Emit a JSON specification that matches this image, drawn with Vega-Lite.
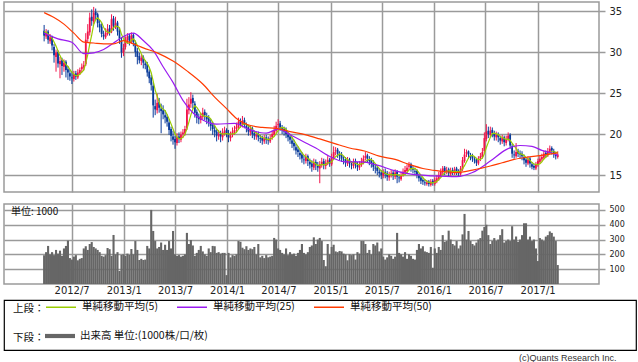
{
"$schema": "https://vega.github.io/schema/vega-lite/v6.json",
"padding": {"left": 3, "top": 1, "right": 0, "bottom": 1},
"background": "white",
"config": {
  "font": "DejaVu Sans",
  "view": {"stroke": "#9a9a9a", "strokeWidth": 1.5},
  "axis": {"gridColor": "#9a9a9a", "gridWidth": 1.5, "gridOpacity": 1, "domain": false, "labelFont": "DejaVu Sans", "labelColor": "#222222", "tickColor": "#9a9a9a", "tickWidth": 1.5, "labelOverlap": false},
  "legend": {"orient": "none", "padding": 0, "labelFont": "Noto Sans CJK JP", "titleFont": "Noto Sans CJK JP", "labelFontSize": 10.5, "titleFontSize": 10.5, "titleFontWeight": "normal", "labelColor": "#111111", "titleColor": "#111111", "direction": "horizontal", "titleOrient": "left", "titleBaseline": "line-top", "titleLineHeight": 14}
},
"title": {"text": "(c)Quants Research Inc.", "orient": "bottom", "anchor": "end", "fontSize": 9, "font": "Liberation Sans", "fontWeight": "normal", "color": "#333333", "offset": 3, "dx": -20},
"datasets": {
"px": [
{"d":"2012-03-26","o":32.6,"h":33.3,"l":31.3,"c":32.0,"v":194,"m":32.5},
{"d":"2012-04-02","o":31.9,"h":32.8,"l":31.6,"c":32.4,"v":215,"m":32.4},
{"d":"2012-04-09","o":32.5,"h":32.7,"l":31.0,"c":31.5,"v":257,"m":32.2},
{"d":"2012-04-16","o":31.3,"h":32.2,"l":31.0,"c":31.8,"v":200,"m":32.0},
{"d":"2012-04-23","o":31.9,"h":32.0,"l":30.2,"c":30.8,"v":215,"m":31.7},
{"d":"2012-04-30","o":30.6,"h":31.0,"l":28.7,"c":29.6,"v":195,"m":31.22},
{"d":"2012-05-07","o":29.4,"h":30.3,"l":27.6,"c":29.9,"v":230,"m":30.72},
{"d":"2012-05-14","o":30.0,"h":30.2,"l":28.1,"c":28.6,"v":205,"m":30.14},
{"d":"2012-05-21","o":28.5,"h":29.4,"l":26.8,"c":28.9,"v":225,"m":29.56},
{"d":"2012-05-28","o":29.0,"h":29.3,"l":27.2,"c":28.3,"v":190,"m":29.06},
{"d":"2012-06-04","o":28.2,"h":29.1,"l":27.6,"c":28.7,"v":240,"m":28.88},
{"d":"2012-06-11","o":28.8,"h":29.0,"l":26.9,"c":27.8,"v":257,"m":28.46},
{"d":"2012-06-18","o":27.9,"h":28.3,"l":26.6,"c":27.5,"v":293,"m":28.24},
{"d":"2012-06-25","o":27.4,"h":27.9,"l":26.5,"c":27.0,"v":175,"m":27.86},
{"d":"2012-07-02","o":26.9,"h":27.6,"l":26.1,"c":26.8,"v":165,"m":27.56},
{"d":"2012-07-09","o":26.7,"h":27.7,"l":26.4,"c":27.3,"v":185,"m":27.28},
{"d":"2012-07-16","o":27.4,"h":27.7,"l":26.6,"c":27.0,"v":195,"m":27.12},
{"d":"2012-07-23","o":26.9,"h":27.9,"l":26.7,"c":27.5,"v":160,"m":27.12},
{"d":"2012-07-30","o":27.4,"h":28.1,"l":27.2,"c":27.8,"v":170,"m":27.28},
{"d":"2012-08-06","o":27.9,"h":28.6,"l":27.5,"c":28.2,"v":175,"m":27.56},
{"d":"2012-08-13","o":28.1,"h":28.9,"l":27.8,"c":28.4,"v":240,"m":27.78},
{"d":"2012-08-20","o":28.5,"h":32.3,"l":28.3,"c":31.5,"v":255,"m":28.68},
{"d":"2012-08-27","o":31.6,"h":33.4,"l":31.2,"c":32.5,"v":230,"m":29.68},
{"d":"2012-09-03","o":32.4,"h":34.8,"l":32.0,"c":34.2,"v":270,"m":30.96},
{"d":"2012-09-10","o":34.3,"h":35.2,"l":33.2,"c":33.8,"v":283,"m":32.08},
{"d":"2012-09-17","o":33.7,"h":35.5,"l":33.4,"c":34.8,"v":250,"m":33.36},
{"d":"2012-09-24","o":34.9,"h":35.3,"l":33.9,"c":34.5,"v":240,"m":33.96},
{"d":"2012-10-01","o":34.6,"h":34.8,"l":33.0,"c":33.5,"v":230,"m":34.16},
{"d":"2012-10-08","o":33.4,"h":33.9,"l":32.4,"c":33.0,"v":215,"m":33.92},
{"d":"2012-10-15","o":33.1,"h":33.5,"l":31.8,"c":32.2,"v":190,"m":33.6},
{"d":"2012-10-22","o":32.1,"h":32.6,"l":31.5,"c":31.9,"v":185,"m":33.02},
{"d":"2012-10-29","o":31.8,"h":32.9,"l":31.6,"c":32.3,"v":195,"m":32.58},
{"d":"2012-11-05","o":32.2,"h":33.4,"l":32.0,"c":32.8,"v":243,"m":32.44},
{"d":"2012-11-12","o":32.9,"h":33.3,"l":32.0,"c":32.4,"v":235,"m":32.32},
{"d":"2012-11-19","o":32.5,"h":34.6,"l":32.3,"c":34.0,"v":190,"m":32.68},
{"d":"2012-11-26","o":34.1,"h":34.4,"l":32.6,"c":33.2,"v":331,"m":32.94},
{"d":"2012-12-03","o":33.1,"h":34.3,"l":32.8,"c":33.5,"v":200,"m":33.18},
{"d":"2012-12-10","o":33.6,"h":33.8,"l":32.0,"c":32.5,"v":215,"m":33.12},
{"d":"2012-12-17","o":32.6,"h":32.9,"l":31.0,"c":31.6,"v":88,"m":32.96},
{"d":"2012-12-24","o":31.5,"h":31.8,"l":29.3,"c":30.0,"v":196,"m":32.16},
{"d":"2012-12-31","o":29.9,"h":31.0,"l":29.5,"c":30.5,"v":200,"m":31.62},
{"d":"2013-01-07","o":30.6,"h":31.9,"l":30.3,"c":31.5,"v":190,"m":31.22},
{"d":"2013-01-14","o":31.4,"h":32.3,"l":31.0,"c":31.9,"v":205,"m":31.1},
{"d":"2013-01-21","o":32.0,"h":32.2,"l":30.8,"c":31.4,"v":196,"m":31.06},
{"d":"2013-01-28","o":31.3,"h":32.4,"l":31.0,"c":32.0,"v":236,"m":31.46},
{"d":"2013-02-04","o":32.1,"h":32.3,"l":30.7,"c":31.2,"v":200,"m":31.6},
{"d":"2013-02-11","o":31.1,"h":31.4,"l":29.4,"c":30.0,"v":290,"m":31.3},
{"d":"2013-02-18","o":30.1,"h":30.5,"l":28.5,"c":29.4,"v":230,"m":30.8},
{"d":"2013-02-25","o":29.5,"h":29.9,"l":28.6,"c":29.0,"v":162,"m":30.32},
{"d":"2013-03-04","o":28.9,"h":29.7,"l":28.4,"c":29.3,"v":170,"m":29.78},
{"d":"2013-03-11","o":29.4,"h":29.6,"l":28.0,"c":28.7,"v":162,"m":29.28},
{"d":"2013-03-18","o":28.6,"h":29.0,"l":27.9,"c":28.4,"v":165,"m":28.96},
{"d":"2013-03-25","o":28.5,"h":28.8,"l":27.0,"c":27.5,"v":257,"m":28.58},
{"d":"2013-04-01","o":27.6,"h":27.9,"l":26.2,"c":26.8,"v":240,"m":28.14},
{"d":"2013-04-08","o":26.9,"h":27.2,"l":25.3,"c":26.0,"v":500,"m":27.48},
{"d":"2013-04-15","o":25.9,"h":26.3,"l":22.0,"c":23.5,"v":358,"m":26.44},
{"d":"2013-04-22","o":23.4,"h":24.2,"l":22.3,"c":23.0,"v":290,"m":25.36},
{"d":"2013-04-29","o":22.9,"h":24.9,"l":22.5,"c":23.8,"v":240,"m":24.62},
{"d":"2013-05-06","o":23.9,"h":24.4,"l":22.6,"c":23.2,"v":250,"m":23.9},
{"d":"2013-05-13","o":23.1,"h":23.7,"l":20.1,"c":22.8,"v":280,"m":23.26},
{"d":"2013-05-20","o":22.9,"h":23.5,"l":21.8,"c":22.4,"v":230,"m":23.04},
{"d":"2013-05-27","o":22.3,"h":22.9,"l":21.3,"c":22.0,"v":265,"m":22.84},
{"d":"2013-06-03","o":22.1,"h":22.4,"l":20.9,"c":21.5,"v":230,"m":22.38},
{"d":"2013-06-10","o":21.4,"h":21.8,"l":19.9,"c":20.5,"v":290,"m":21.84},
{"d":"2013-06-17","o":20.6,"h":20.9,"l":19.1,"c":19.8,"v":240,"m":21.24},
{"d":"2013-06-24","o":19.7,"h":20.4,"l":18.7,"c":19.3,"v":358,"m":20.62},
{"d":"2013-07-01","o":19.4,"h":19.8,"l":18.2,"c":19.0,"v":200,"m":20.02},
{"d":"2013-07-08","o":18.9,"h":20.1,"l":18.6,"c":19.6,"v":190,"m":19.64},
{"d":"2013-07-15","o":19.7,"h":20.2,"l":18.9,"c":19.4,"v":195,"m":19.42},
{"d":"2013-07-22","o":19.3,"h":20.3,"l":19.0,"c":19.9,"v":185,"m":19.44},
{"d":"2013-07-29","o":20.0,"h":20.6,"l":19.5,"c":20.2,"v":190,"m":19.62},
{"d":"2013-08-05","o":20.1,"h":21.0,"l":19.8,"c":20.6,"v":200,"m":19.94},
{"d":"2013-08-12","o":20.7,"h":24.3,"l":20.5,"c":23.0,"v":345,"m":20.62},
{"d":"2013-08-19","o":22.9,"h":24.5,"l":22.4,"c":23.6,"v":270,"m":21.46},
{"d":"2013-08-26","o":23.7,"h":25.1,"l":23.2,"c":24.3,"v":297,"m":22.34},
{"d":"2013-09-02","o":24.4,"h":24.8,"l":23.1,"c":23.8,"v":260,"m":23.06},
{"d":"2013-09-09","o":23.7,"h":24.0,"l":22.0,"c":22.6,"v":190,"m":23.46},
{"d":"2013-09-16","o":22.7,"h":23.0,"l":21.3,"c":22.0,"v":210,"m":23.26},
{"d":"2013-09-23","o":22.1,"h":22.5,"l":21.2,"c":21.8,"v":230,"m":22.9},
{"d":"2013-09-30","o":21.7,"h":22.6,"l":21.3,"c":22.2,"v":257,"m":22.48},
{"d":"2013-10-07","o":22.1,"h":23.2,"l":21.8,"c":22.6,"v":220,"m":22.24},
{"d":"2013-10-14","o":22.7,"h":23.0,"l":21.7,"c":22.3,"v":200,"m":22.18},
{"d":"2013-10-21","o":22.2,"h":22.6,"l":21.2,"c":21.8,"v":190,"m":22.14},
{"d":"2013-10-28","o":21.9,"h":22.3,"l":20.9,"c":21.5,"v":240,"m":22.08},
{"d":"2013-11-04","o":21.4,"h":21.8,"l":20.4,"c":21.0,"v":215,"m":21.84},
{"d":"2013-11-11","o":21.1,"h":21.5,"l":19.9,"c":20.6,"v":257,"m":21.44},
{"d":"2013-11-18","o":20.5,"h":21.0,"l":19.6,"c":20.2,"v":255,"m":21.02},
{"d":"2013-11-25","o":20.3,"h":20.6,"l":19.1,"c":19.8,"v":210,"m":20.62},
{"d":"2013-12-02","o":19.7,"h":20.5,"l":19.3,"c":20.0,"v":215,"m":20.32},
{"d":"2013-12-09","o":20.1,"h":20.4,"l":19.0,"c":19.7,"v":205,"m":20.06},
{"d":"2013-12-16","o":19.6,"h":20.7,"l":19.2,"c":20.2,"v":210,"m":19.98},
{"d":"2013-12-23","o":20.1,"h":20.9,"l":19.8,"c":20.4,"v":210,"m":20.02},
{"d":"2013-12-30","o":20.5,"h":20.7,"l":19.6,"c":20.0,"v":60,"m":20.06},
{"d":"2014-01-06","o":20.1,"h":20.5,"l":19.0,"c":19.6,"v":210,"m":19.98},
{"d":"2014-01-13","o":19.5,"h":20.3,"l":19.1,"c":19.8,"v":180,"m":20.0},
{"d":"2014-01-20","o":19.9,"h":20.8,"l":19.6,"c":20.3,"v":195,"m":20.02},
{"d":"2014-01-27","o":20.2,"h":21.0,"l":19.9,"c":20.5,"v":190,"m":20.04},
{"d":"2014-02-03","o":20.6,"h":21.4,"l":20.2,"c":20.9,"v":200,"m":20.22},
{"d":"2014-02-10","o":20.8,"h":22.0,"l":20.5,"c":21.5,"v":290,"m":20.6},
{"d":"2014-02-17","o":21.6,"h":21.9,"l":20.8,"c":21.2,"v":285,"m":20.88},
{"d":"2014-02-24","o":21.1,"h":22.2,"l":20.8,"c":21.6,"v":245,"m":21.14},
{"d":"2014-03-03","o":21.7,"h":22.0,"l":20.7,"c":21.1,"v":235,"m":21.26},
{"d":"2014-03-10","o":21.0,"h":21.4,"l":20.2,"c":20.7,"v":255,"m":21.22},
{"d":"2014-03-17","o":20.8,"h":21.1,"l":19.8,"c":20.3,"v":230,"m":20.98},
{"d":"2014-03-24","o":20.2,"h":21.0,"l":19.8,"c":20.6,"v":240,"m":20.86},
{"d":"2014-03-31","o":20.7,"h":20.9,"l":19.5,"c":20.0,"v":235,"m":20.54},
{"d":"2014-04-07","o":20.1,"h":20.4,"l":19.3,"c":19.8,"v":250,"m":20.28},
{"d":"2014-04-14","o":19.7,"h":20.3,"l":19.3,"c":19.9,"v":200,"m":20.12},
{"d":"2014-04-21","o":20.0,"h":20.3,"l":19.1,"c":19.6,"v":270,"m":19.98},
{"d":"2014-04-28","o":19.5,"h":19.9,"l":18.9,"c":19.4,"v":180,"m":19.74},
{"d":"2014-05-05","o":19.5,"h":19.8,"l":18.7,"c":19.2,"v":190,"m":19.58},
{"d":"2014-05-12","o":19.1,"h":19.9,"l":18.8,"c":19.5,"v":175,"m":19.52},
{"d":"2014-05-19","o":19.6,"h":19.9,"l":18.8,"c":19.3,"v":195,"m":19.4},
{"d":"2014-05-26","o":19.3,"h":19.7,"l":18.7,"c":19.2,"v":180,"m":19.32},
{"d":"2014-06-02","o":19.1,"h":19.9,"l":18.9,"c":19.5,"v":185,"m":19.34},
{"d":"2014-06-09","o":19.6,"h":20.4,"l":19.3,"c":20.0,"v":190,"m":19.5},
{"d":"2014-06-16","o":19.9,"h":21.0,"l":19.7,"c":20.5,"v":311,"m":19.7},
{"d":"2014-06-23","o":20.4,"h":21.5,"l":20.1,"c":21.0,"v":300,"m":20.04},
{"d":"2014-06-30","o":21.1,"h":21.8,"l":20.7,"c":21.2,"v":240,"m":20.44},
{"d":"2014-07-07","o":21.3,"h":21.6,"l":20.4,"c":20.8,"v":230,"m":20.7},
{"d":"2014-07-14","o":20.7,"h":21.1,"l":20.0,"c":20.5,"v":210,"m":20.8},
{"d":"2014-07-21","o":20.6,"h":20.9,"l":19.8,"c":20.3,"v":200,"m":20.76},
{"d":"2014-07-28","o":20.4,"h":20.8,"l":19.5,"c":20.0,"v":240,"m":20.56},
{"d":"2014-08-04","o":19.9,"h":20.3,"l":19.1,"c":19.6,"v":195,"m":20.24},
{"d":"2014-08-11","o":19.7,"h":20.0,"l":18.8,"c":19.3,"v":215,"m":19.94},
{"d":"2014-08-18","o":19.2,"h":19.6,"l":18.3,"c":18.8,"v":200,"m":19.6},
{"d":"2014-08-25","o":18.9,"h":19.3,"l":18.0,"c":18.5,"v":205,"m":19.24},
{"d":"2014-09-01","o":18.4,"h":18.8,"l":17.5,"c":18.0,"v":190,"m":18.84},
{"d":"2014-09-08","o":18.1,"h":18.5,"l":17.2,"c":17.8,"v":210,"m":18.48},
{"d":"2014-09-15","o":17.7,"h":18.1,"l":16.9,"c":17.4,"v":230,"m":18.1},
{"d":"2014-09-22","o":17.5,"h":17.8,"l":16.5,"c":17.0,"v":270,"m":17.74},
{"d":"2014-09-29","o":16.9,"h":17.4,"l":16.3,"c":16.8,"v":210,"m":17.4},
{"d":"2014-10-06","o":16.7,"h":17.6,"l":16.4,"c":17.2,"v":200,"m":17.24},
{"d":"2014-10-13","o":17.3,"h":17.5,"l":16.1,"c":16.7,"v":215,"m":17.02},
{"d":"2014-10-20","o":16.6,"h":17.0,"l":15.8,"c":16.3,"v":250,"m":16.8},
{"d":"2014-10-27","o":16.4,"h":16.8,"l":15.4,"c":16.0,"v":260,"m":16.6},
{"d":"2014-11-03","o":15.9,"h":17.0,"l":15.6,"c":16.5,"v":315,"m":16.54},
{"d":"2014-11-10","o":16.6,"h":16.9,"l":15.6,"c":16.2,"v":270,"m":16.34},
{"d":"2014-11-17","o":16.1,"h":16.6,"l":15.4,"c":15.9,"v":300,"m":16.18},
{"d":"2014-11-24","o":15.8,"h":16.7,"l":14.0,"c":16.3,"v":311,"m":16.18},
{"d":"2014-12-01","o":16.2,"h":17.1,"l":15.9,"c":16.6,"v":290,"m":16.3},
{"d":"2014-12-08","o":16.7,"h":17.0,"l":15.7,"c":16.2,"v":162,"m":16.24},
{"d":"2014-12-15","o":16.1,"h":16.9,"l":15.7,"c":16.5,"v":120,"m":16.3},
{"d":"2014-12-22","o":16.4,"h":17.3,"l":16.2,"c":16.8,"v":270,"m":16.48},
{"d":"2014-12-29","o":16.9,"h":17.1,"l":16.0,"c":16.4,"v":200,"m":16.5},
{"d":"2015-01-05","o":16.3,"h":17.6,"l":16.1,"c":17.2,"v":250,"m":16.62},
{"d":"2015-01-12","o":17.1,"h":18.5,"l":16.9,"c":17.8,"v":265,"m":16.94},
{"d":"2015-01-19","o":17.9,"h":18.4,"l":17.4,"c":18.0,"v":220,"m":17.24},
{"d":"2015-01-26","o":18.1,"h":18.3,"l":17.1,"c":17.6,"v":215,"m":17.4},
{"d":"2015-02-02","o":17.5,"h":17.9,"l":16.8,"c":17.3,"v":223,"m":17.58},
{"d":"2015-02-09","o":17.4,"h":17.8,"l":16.6,"c":17.0,"v":220,"m":17.54},
{"d":"2015-02-16","o":16.9,"h":17.3,"l":16.3,"c":16.8,"v":205,"m":17.34},
{"d":"2015-02-23","o":16.9,"h":17.2,"l":16.0,"c":16.5,"v":200,"m":17.04},
{"d":"2015-03-02","o":16.4,"h":17.2,"l":16.1,"c":16.8,"v":160,"m":16.88},
{"d":"2015-03-09","o":16.9,"h":17.1,"l":15.9,"c":16.4,"v":200,"m":16.7},
{"d":"2015-03-16","o":16.3,"h":16.7,"l":15.7,"c":16.2,"v":195,"m":16.54},
{"d":"2015-03-23","o":16.1,"h":17.0,"l":15.8,"c":16.6,"v":200,"m":16.5},
{"d":"2015-03-30","o":16.7,"h":17.0,"l":15.8,"c":16.3,"v":165,"m":16.46},
{"d":"2015-04-06","o":16.2,"h":16.6,"l":15.5,"c":16.0,"v":215,"m":16.3},
{"d":"2015-04-13","o":15.9,"h":16.7,"l":15.6,"c":16.3,"v":205,"m":16.28},
{"d":"2015-04-20","o":16.2,"h":17.1,"l":16.0,"c":16.6,"v":290,"m":16.36},
{"d":"2015-04-27","o":16.5,"h":17.4,"l":16.3,"c":17.0,"v":290,"m":16.44},
{"d":"2015-05-04","o":17.1,"h":17.8,"l":16.8,"c":17.3,"v":270,"m":16.64},
{"d":"2015-05-11","o":17.4,"h":17.6,"l":16.5,"c":17.0,"v":210,"m":16.84},
{"d":"2015-05-18","o":16.9,"h":17.3,"l":16.2,"c":16.7,"v":230,"m":16.92},
{"d":"2015-05-25","o":16.8,"h":17.1,"l":15.9,"c":16.4,"v":200,"m":16.88},
{"d":"2015-06-01","o":16.5,"h":16.8,"l":15.5,"c":16.0,"v":270,"m":16.68},
{"d":"2015-06-08","o":15.9,"h":16.3,"l":15.2,"c":15.8,"v":260,"m":16.38},
{"d":"2015-06-15","o":15.9,"h":16.2,"l":15.0,"c":15.5,"v":280,"m":16.08},
{"d":"2015-06-22","o":15.4,"h":15.8,"l":14.7,"c":15.2,"v":220,"m":15.78},
{"d":"2015-06-29","o":15.3,"h":15.6,"l":14.5,"c":15.0,"v":240,"m":15.5},
{"d":"2015-07-06","o":14.9,"h":15.7,"l":14.6,"c":15.3,"v":185,"m":15.36},
{"d":"2015-07-13","o":15.4,"h":15.8,"l":14.6,"c":15.1,"v":165,"m":15.22},
{"d":"2015-07-20","o":15.2,"h":15.5,"l":14.3,"c":14.8,"v":180,"m":15.08},
{"d":"2015-07-27","o":14.7,"h":15.4,"l":14.3,"c":15.0,"v":200,"m":15.04},
{"d":"2015-08-03","o":15.1,"h":15.6,"l":14.7,"c":15.2,"v":190,"m":15.08},
{"d":"2015-08-10","o":15.3,"h":15.6,"l":14.4,"c":14.9,"v":170,"m":15.0},
{"d":"2015-08-17","o":14.8,"h":15.7,"l":14.5,"c":15.3,"v":185,"m":15.04},
{"d":"2015-08-24","o":15.4,"h":15.6,"l":14.0,"c":14.8,"v":345,"m":15.04},
{"d":"2015-08-31","o":14.7,"h":15.1,"l":14.1,"c":14.6,"v":210,"m":14.96},
{"d":"2015-09-07","o":14.5,"h":15.4,"l":14.3,"c":15.0,"v":200,"m":14.92},
{"d":"2015-09-14","o":15.1,"h":15.8,"l":14.8,"c":15.4,"v":185,"m":15.02},
{"d":"2015-09-21","o":15.3,"h":16.1,"l":15.0,"c":15.6,"v":215,"m":15.08},
{"d":"2015-09-28","o":15.5,"h":16.3,"l":15.2,"c":15.9,"v":170,"m":15.3},
{"d":"2015-10-05","o":16.0,"h":16.6,"l":15.6,"c":16.2,"v":200,"m":15.62},
{"d":"2015-10-12","o":16.3,"h":16.5,"l":15.4,"c":15.8,"v":190,"m":15.78},
{"d":"2015-10-19","o":15.7,"h":16.1,"l":15.2,"c":15.6,"v":170,"m":15.82},
{"d":"2015-10-26","o":15.5,"h":15.9,"l":15.0,"c":15.4,"v":165,"m":15.78},
{"d":"2015-11-02","o":15.5,"h":15.7,"l":14.6,"c":15.0,"v":230,"m":15.6},
{"d":"2015-11-09","o":14.9,"h":15.2,"l":14.2,"c":14.6,"v":270,"m":15.28},
{"d":"2015-11-16","o":14.7,"h":14.9,"l":13.9,"c":14.3,"v":240,"m":14.98},
{"d":"2015-11-23","o":14.4,"h":14.6,"l":13.8,"c":14.2,"v":255,"m":14.7},
{"d":"2015-11-30","o":14.1,"h":14.5,"l":13.7,"c":14.0,"v":220,"m":14.42},
{"d":"2015-12-07","o":13.9,"h":14.4,"l":13.7,"c":14.1,"v":215,"m":14.24},
{"d":"2015-12-14","o":14.2,"h":14.4,"l":13.6,"c":13.9,"v":210,"m":14.1},
{"d":"2015-12-21","o":13.8,"h":14.5,"l":13.6,"c":14.2,"v":250,"m":14.08},
{"d":"2015-12-28","o":14.3,"h":14.5,"l":13.7,"c":14.0,"v":110,"m":14.04},
{"d":"2016-01-04","o":13.9,"h":14.7,"l":13.7,"c":14.4,"v":240,"m":14.12},
{"d":"2016-01-11","o":14.3,"h":15.0,"l":14.0,"c":14.6,"v":210,"m":14.22},
{"d":"2016-01-18","o":14.5,"h":15.4,"l":14.3,"c":15.0,"v":250,"m":14.44},
{"d":"2016-01-25","o":14.9,"h":15.8,"l":14.7,"c":15.4,"v":230,"m":14.68},
{"d":"2016-02-01","o":15.3,"h":16.1,"l":15.0,"c":15.8,"v":330,"m":15.04},
{"d":"2016-02-08","o":15.9,"h":16.1,"l":15.0,"c":15.5,"v":285,"m":15.26},
{"d":"2016-02-15","o":15.4,"h":16.0,"l":15.1,"c":15.6,"v":290,"m":15.46},
{"d":"2016-02-22","o":15.7,"h":15.9,"l":14.8,"c":15.2,"v":360,"m":15.5},
{"d":"2016-02-29","o":15.1,"h":15.9,"l":14.9,"c":15.5,"v":300,"m":15.52},
{"d":"2016-03-07","o":15.6,"h":15.9,"l":15.0,"c":15.3,"v":270,"m":15.42},
{"d":"2016-03-14","o":15.2,"h":16.0,"l":15.0,"c":15.7,"v":260,"m":15.46},
{"d":"2016-03-21","o":15.8,"h":16.0,"l":15.0,"c":15.4,"v":290,"m":15.42},
{"d":"2016-03-28","o":15.3,"h":15.7,"l":14.9,"c":15.2,"v":240,"m":15.42},
{"d":"2016-04-04","o":15.1,"h":16.1,"l":14.9,"c":15.8,"v":260,"m":15.48},
{"d":"2016-04-11","o":15.7,"h":17.2,"l":15.5,"c":16.8,"v":335,"m":15.78},
{"d":"2016-04-18","o":16.7,"h":18.2,"l":16.5,"c":17.5,"v":473,"m":16.14},
{"d":"2016-04-25","o":17.6,"h":18.1,"l":17.2,"c":17.8,"v":300,"m":16.62},
{"d":"2016-05-02","o":17.9,"h":18.0,"l":17.0,"c":17.5,"v":358,"m":17.08},
{"d":"2016-05-09","o":17.4,"h":17.7,"l":16.8,"c":17.2,"v":290,"m":17.36},
{"d":"2016-05-16","o":17.3,"h":17.6,"l":16.6,"c":17.0,"v":270,"m":17.4},
{"d":"2016-05-23","o":16.9,"h":17.3,"l":16.4,"c":16.8,"v":260,"m":17.26},
{"d":"2016-05-30","o":16.9,"h":17.1,"l":16.1,"c":16.5,"v":280,"m":17.0},
{"d":"2016-06-06","o":16.4,"h":17.3,"l":16.2,"c":16.9,"v":300,"m":16.88},
{"d":"2016-06-13","o":17.0,"h":17.7,"l":16.7,"c":17.3,"v":310,"m":16.9},
{"d":"2016-06-20","o":17.2,"h":18.3,"l":17.0,"c":17.8,"v":360,"m":17.06},
{"d":"2016-06-27","o":17.9,"h":20.2,"l":17.7,"c":19.5,"v":385,"m":17.6},
{"d":"2016-07-04","o":19.4,"h":21.2,"l":19.1,"c":20.3,"v":400,"m":18.36},
{"d":"2016-07-11","o":20.4,"h":20.9,"l":19.5,"c":20.0,"v":330,"m":18.98},
{"d":"2016-07-18","o":19.9,"h":20.9,"l":19.6,"c":20.4,"v":270,"m":19.6},
{"d":"2016-07-25","o":20.5,"h":20.8,"l":19.6,"c":20.1,"v":290,"m":20.06},
{"d":"2016-08-01","o":20.0,"h":20.4,"l":19.2,"c":19.7,"v":310,"m":20.1},
{"d":"2016-08-08","o":19.6,"h":20.3,"l":19.2,"c":19.9,"v":290,"m":20.02},
{"d":"2016-08-15","o":20.0,"h":20.2,"l":19.0,"c":19.6,"v":300,"m":19.94},
{"d":"2016-08-22","o":19.5,"h":19.8,"l":18.7,"c":19.2,"v":330,"m":19.7},
{"d":"2016-08-29","o":19.1,"h":19.9,"l":18.8,"c":19.5,"v":370,"m":19.58},
{"d":"2016-09-05","o":19.6,"h":19.8,"l":18.5,"c":19.0,"v":280,"m":19.44},
{"d":"2016-09-12","o":18.9,"h":19.8,"l":18.6,"c":19.4,"v":290,"m":19.34},
{"d":"2016-09-19","o":19.3,"h":20.2,"l":19.1,"c":19.8,"v":300,"m":19.38},
{"d":"2016-09-26","o":19.9,"h":20.1,"l":18.2,"c":18.6,"v":290,"m":19.26},
{"d":"2016-10-03","o":18.5,"h":18.8,"l":17.1,"c":17.6,"v":390,"m":18.88},
{"d":"2016-10-10","o":17.5,"h":18.0,"l":17.0,"c":17.4,"v":300,"m":18.56},
{"d":"2016-10-17","o":17.3,"h":18.9,"l":17.1,"c":17.8,"v":320,"m":18.24},
{"d":"2016-10-24","o":17.9,"h":18.2,"l":17.2,"c":17.6,"v":285,"m":17.8},
{"d":"2016-10-31","o":17.7,"h":18.0,"l":17.0,"c":17.5,"v":300,"m":17.58},
{"d":"2016-11-07","o":17.6,"h":17.9,"l":16.8,"c":17.3,"v":330,"m":17.52},
{"d":"2016-11-14","o":17.2,"h":17.5,"l":16.3,"c":16.8,"v":410,"m":17.4},
{"d":"2016-11-21","o":16.9,"h":17.2,"l":16.0,"c":16.5,"v":410,"m":17.14},
{"d":"2016-11-28","o":16.4,"h":17.3,"l":16.2,"c":16.9,"v":300,"m":17.0},
{"d":"2016-12-05","o":17.0,"h":17.2,"l":15.9,"c":16.4,"v":320,"m":16.78},
{"d":"2016-12-12","o":16.3,"h":16.6,"l":15.7,"c":16.0,"v":290,"m":16.52},
{"d":"2016-12-19","o":16.1,"h":16.4,"l":15.6,"c":15.9,"v":300,"m":16.34},
{"d":"2016-12-26","o":15.8,"h":16.6,"l":15.6,"c":16.3,"v":240,"m":16.3},
{"d":"2017-01-02","o":16.2,"h":17.0,"l":16.0,"c":16.7,"v":155,"m":16.26},
{"d":"2017-01-09","o":16.6,"h":17.4,"l":16.4,"c":17.0,"v":310,"m":16.38},
{"d":"2017-01-16","o":16.9,"h":17.6,"l":16.7,"c":17.2,"v":300,"m":16.62},
{"d":"2017-01-23","o":17.1,"h":18.0,"l":16.9,"c":17.6,"v":290,"m":16.96},
{"d":"2017-01-30","o":17.7,"h":18.0,"l":17.1,"c":17.5,"v":320,"m":17.2},
{"d":"2017-02-06","o":17.4,"h":18.3,"l":17.2,"c":17.9,"v":330,"m":17.44},
{"d":"2017-02-13","o":17.8,"h":18.6,"l":17.6,"c":18.2,"v":355,"m":17.68},
{"d":"2017-02-20","o":18.3,"h":18.5,"l":17.5,"c":18.0,"v":345,"m":17.84},
{"d":"2017-02-27","o":17.9,"h":18.2,"l":17.1,"c":17.6,"v":320,"m":17.84},
{"d":"2017-03-06","o":17.5,"h":17.8,"l":16.9,"c":17.3,"v":290,"m":17.8},
{"d":"2017-03-13","o":17.2,"h":17.9,"l":17.0,"c":17.5,"v":128,"m":17.72}
],
"ma25": [
{"d":"2012-03-26","v":32.3},{"d":"2012-05-14","v":31.6},{"d":"2012-07-02","v":31.2},{"d":"2012-08-13","v":29.8},
{"d":"2012-09-17","v":29.9},{"d":"2012-10-22","v":30.3},{"d":"2012-11-26","v":31.1},{"d":"2012-12-31","v":31.9},
{"d":"2013-02-04","v":32.3},{"d":"2013-03-11","v":31.4},{"d":"2013-04-15","v":30.2},{"d":"2013-05-20","v":28.2},
{"d":"2013-06-24","v":26.3},{"d":"2013-07-29","v":24.1},{"d":"2013-09-02","v":22.6},{"d":"2013-10-07","v":21.7},
{"d":"2013-11-25","v":21.2},{"d":"2014-01-27","v":21.3},{"d":"2014-03-24","v":20.5},{"d":"2014-05-19","v":20.1},
{"d":"2014-06-30","v":20.6},{"d":"2014-08-18","v":19.8},{"d":"2014-10-06","v":18.9},{"d":"2014-11-10","v":18.3},
{"d":"2014-12-22","v":17.4},{"d":"2015-02-23","v":16.6},{"d":"2015-04-20","v":16.6},{"d":"2015-06-15","v":16.2},
{"d":"2015-08-17","v":15.5},{"d":"2015-10-12","v":15.1},{"d":"2015-12-28","v":14.9},{"d":"2016-03-21","v":14.8},
{"d":"2016-05-16","v":15.3},{"d":"2016-07-18","v":16.7},{"d":"2016-09-12","v":18.1},{"d":"2016-10-31","v":18.6},
{"d":"2016-12-12","v":18.5},{"d":"2017-01-16","v":18.0},{"d":"2017-02-27","v":17.6},{"d":"2017-03-13","v":17.4}
],
"ma50": [
{"d":"2012-03-26","v":34.8},{"d":"2012-04-30","v":34.2},{"d":"2012-06-04","v":33.4},{"d":"2012-07-09","v":32.3},
{"d":"2012-08-13","v":31.2},{"d":"2012-09-17","v":31.1},{"d":"2012-10-22","v":31.0},{"d":"2012-11-26","v":31.0},
{"d":"2012-12-31","v":31.4},{"d":"2013-02-04","v":31.0},{"d":"2013-03-11","v":30.5},{"d":"2013-04-29","v":29.9},
{"d":"2013-06-24","v":28.9},{"d":"2013-08-12","v":27.7},{"d":"2013-10-07","v":26.1},{"d":"2013-11-18","v":24.5},
{"d":"2013-12-30","v":23.1},{"d":"2014-02-03","v":21.9},{"d":"2014-03-10","v":21.2},{"d":"2014-05-05","v":20.8},
{"d":"2014-06-23","v":20.7},{"d":"2014-08-11","v":20.3},{"d":"2014-10-06","v":19.9},{"d":"2014-11-24","v":19.4},
{"d":"2015-01-19","v":18.8},{"d":"2015-03-09","v":18.3},{"d":"2015-05-04","v":17.9},{"d":"2015-06-22","v":17.3},
{"d":"2015-08-17","v":16.9},{"d":"2015-10-05","v":16.3},{"d":"2015-11-23","v":15.8},{"d":"2016-01-18","v":15.5},
{"d":"2016-03-21","v":15.3},{"d":"2016-05-16","v":15.6},{"d":"2016-07-18","v":16.1},{"d":"2016-08-29","v":16.5},
{"d":"2016-10-10","v":16.9},{"d":"2016-11-28","v":17.2},{"d":"2017-01-16","v":17.4},{"d":"2017-03-13","v":17.7}
]
},
"spacing": 3,
"vconcat": [
 {
  "spacing": 10,
  "vconcat": [
   {
    "width": 595, "height": 190,
    "layer": [
     {"data": {"name": "px"}, "mark": {"type": "rule", "strokeWidth": 1},
      "encoding": {
       "x": {"field": "d", "type": "temporal", "title": null,
             "scale": {"type": "utc", "domain": [{"year":2011,"month":11,"date":23,"utc":true},{"year":2017,"month":7,"date":19,"utc":true}]},
             "axis": {"values": [{"year":2012,"month":7,"date":1,"utc":true},{"year":2013,"month":1,"date":1,"utc":true},{"year":2013,"month":7,"date":1,"utc":true},{"year":2014,"month":1,"date":1,"utc":true},{"year":2014,"month":7,"date":1,"utc":true},{"year":2015,"month":1,"date":1,"utc":true},{"year":2015,"month":7,"date":1,"utc":true},{"year":2016,"month":1,"date":1,"utc":true},{"year":2016,"month":7,"date":1,"utc":true},{"year":2017,"month":1,"date":1,"utc":true}],
                      "grid": true, "labels": false, "ticks": false}},
       "y": {"field": "l", "type": "quantitative", "title": null,
             "scale": {"domain": [12.93, 36.1], "nice": false, "zero": false},
             "axis": {"orient": "right", "values": [15, 20, 25, 30, 35], "grid": true, "tickSize": 6, "labelPadding": 4, "labelFontSize": 10}},
       "y2": {"field": "h"},
       "color": {"condition": {"test": "datum.c >= datum.o", "value": "#f2134a"}, "value": "#083a9a"}
      }},
     {"data": {"name": "px"}, "mark": {"type": "bar", "size": 1.8},
      "encoding": {
       "x": {"field": "d", "type": "temporal", "title": null},
       "y": {"field": "o", "type": "quantitative", "title": null},
       "y2": {"field": "c"},
       "color": {"condition": {"test": "datum.c >= datum.o", "value": "#f2134a"}, "value": "#083a9a"}
      }},
     {"data": {"name": "px"}, "mark": {"type": "line", "strokeWidth": 1.2},
      "encoding": {
       "x": {"field": "d", "type": "temporal", "title": null},
       "y": {"field": "m", "type": "quantitative", "title": null},
       "stroke": {"datum": "単純移動平均(5)", "type": "nominal",
                  "scale": {"domain": ["単純移動平均(5)", "単純移動平均(25)", "単純移動平均(50)"], "range": ["#99cc00", "#9a1af0", "#ff3a00"]},
                  "legend": {"title": "上段：", "legendX": 9, "legendY": 289, "symbolType": "stroke", "symbolSize": 900, "symbolStrokeWidth": 1.5, "labelOffset": 5, "columnPadding": 16, "titlePadding": 0}}
      }},
     {"data": {"name": "ma25"}, "mark": {"type": "line", "strokeWidth": 1.2, "interpolate": "monotone"},
      "encoding": {
       "x": {"field": "d", "type": "temporal", "title": null},
       "y": {"field": "v", "type": "quantitative", "title": null},
       "stroke": {"datum": "単純移動平均(25)", "type": "nominal"}
      }},
     {"data": {"name": "ma50"}, "mark": {"type": "line", "strokeWidth": 1.2, "interpolate": "monotone"},
      "encoding": {
       "x": {"field": "d", "type": "temporal", "title": null},
       "y": {"field": "v", "type": "quantitative", "title": null},
       "stroke": {"datum": "単純移動平均(50)", "type": "nominal"}
      }}
    ]
   },
   {
    "width": 595, "height": 80,
    "title": {"text": "単位: 1000", "anchor": "start", "orient": "top", "offset": -13, "dx": 7, "font": "Noto Sans CJK JP", "fontSize": 10, "fontWeight": "normal", "color": "#111111"},
    "data": {"name": "px"},
    "mark": {"type": "bar", "size": 2.1},
    "encoding": {
     "x": {"field": "d", "type": "temporal", "title": null,
           "scale": {"type": "utc", "domain": [{"year":2011,"month":11,"date":23,"utc":true},{"year":2017,"month":7,"date":19,"utc":true}]},
           "axis": {"values": [{"year":2012,"month":7,"date":1,"utc":true},{"year":2013,"month":1,"date":1,"utc":true},{"year":2013,"month":7,"date":1,"utc":true},{"year":2014,"month":1,"date":1,"utc":true},{"year":2014,"month":7,"date":1,"utc":true},{"year":2015,"month":1,"date":1,"utc":true},{"year":2015,"month":7,"date":1,"utc":true},{"year":2016,"month":1,"date":1,"utc":true},{"year":2016,"month":7,"date":1,"utc":true},{"year":2017,"month":1,"date":1,"utc":true}],
                    "format": "%Y/%-m", "grid": true, "ticks": false, "tickSize": 0, "labelPadding": 1, "labelFontSize": 10}},
     "y": {"field": "v", "type": "quantitative", "title": null,
           "scale": {"domain": [0, 540], "nice": false},
           "axis": {"orient": "right", "values": [100, 200, 300, 400, 500], "grid": true, "tickSize": 6, "labelPadding": 4, "labelFontSize": 8}},
     "fill": {"datum": "出来高 単位:(1000株/口/枚)", "type": "nominal", "scale": {"range": ["#666666"]},
              "legend": {"title": "下段：", "legendX": 9, "legendY": 319, "symbolType": "M-1,-0.14H1V0.14H-1Z", "symbolSize": 900, "symbolStrokeWidth": 0, "labelOffset": 5, "titlePadding": 0}}
    }
   }
  ]
 },
 {
  "width": 632, "height": 50,
  "view": {"stroke": "#000000", "strokeWidth": 1.2},
  "data": {"values": [{"k": 1}]},
  "mark": {"type": "point", "opacity": 0},
  "encoding": {}
 }
]
}
